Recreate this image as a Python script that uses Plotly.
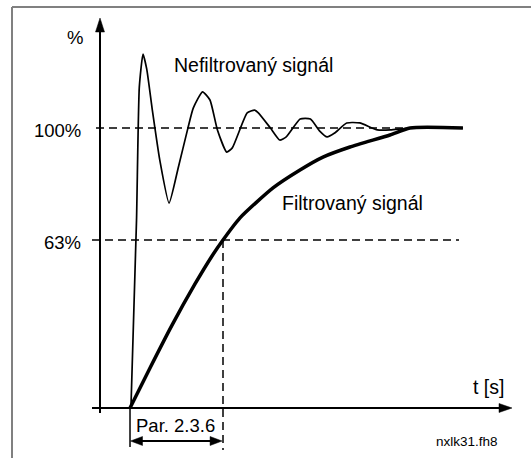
import plotly.graph_objects as go

# ---------------- data ----------------
# time in units of the filter time constant (Par. 2.3.6 = 1.0), level in %
T_UNFILTERED = [0.01, 0.07, 0.10, 0.14, 0.18, 0.24, 0.32, 0.42, 0.52, 0.62, 0.68, 0.78,
                0.86, 0.94, 1.04, 1.10, 1.26, 1.34, 1.38, 1.51, 1.61, 1.68, 1.83, 1.94,
                2.04, 2.12, 2.20, 2.33, 2.47, 2.66, 2.80, 3.01, 3.58]
Y_UNFILTERED = [0.0, 67.1, 114.6, 126.4, 121.0, 106.4, 88.6, 73.2, 86.0, 99.6, 107.1, 112.9,
                110.0, 99.3, 91.4, 92.9, 105.4, 106.4, 105.4, 100.0, 95.7, 96.8, 103.2, 103.2,
                98.9, 96.8, 98.2, 101.8, 101.8, 99.3, 99.3, 100.0, 100.0]

T_FILTERED = [0.0, 0.215, 0.452, 0.699, 0.882, 1.00, 1.183, 1.538, 1.828, 2.075, 2.366, 2.796, 3.011, 3.58]
Y_FILTERED = [0.0, 14.3, 29.6, 44.3, 54.3, 60.0, 67.9, 78.6, 85.0, 89.6, 93.2, 97.5, 100.0, 100.0]

LEVEL_TICKS = [60, 100]
LEVEL_LABELS = ["63%", "100%"]
TAU = 1.0

# ---------------- figure geometry ----------------
W, H = 531, 458
X_RANGE = [-1.398, 4.312]
Y_RANGE = [-17.857, 145.71]
FONT = "Liberation Sans, Arial, sans-serif"


def px(xp):
    return xp / W


def py(yp):
    return 1 - yp / H


def t_of(xp):
    return X_RANGE[0] + xp / W * (X_RANGE[1] - X_RANGE[0])


def y_of(yp):
    return Y_RANGE[1] - yp / H * (Y_RANGE[1] - Y_RANGE[0])


Y_AXIS_T = t_of(100)

fig = go.Figure()
fig.add_trace(go.Scatter(x=T_UNFILTERED, y=Y_UNFILTERED, mode="lines",
                         line=dict(color="black", width=1.7, shape="spline", smoothing=0.5),
                         hoverinfo="skip"))
fig.add_trace(go.Scatter(x=T_FILTERED, y=Y_FILTERED, mode="lines",
                         line=dict(color="black", width=3.5, shape="spline", smoothing=0.6),
                         hoverinfo="skip"))

shapes = []
dash = dict(color="black", width=1.5, dash="8px,5px")
# guide lines
shapes.append(dict(type="line", x0=t_of(96), x1=T_FILTERED[-2], y0=LEVEL_TICKS[1], y1=LEVEL_TICKS[1],
                   line=dash, layer="below"))
shapes.append(dict(type="line", x0=t_of(92), x1=t_of(459), y0=LEVEL_TICKS[0], y1=LEVEL_TICKS[0],
                   line=dash, layer="below"))
shapes.append(dict(type="line", x0=TAU, x1=TAU, y0=LEVEL_TICKS[0], y1=y_of(450), line=dash))
# axes
shapes.append(dict(type="line", x0=Y_AXIS_T, x1=Y_AXIS_T, y0=y_of(413), y1=y_of(28),
                   line=dict(color="black", width=2)))
shapes.append(dict(type="line", x0=t_of(92), x1=t_of(502), y0=0, y1=0,
                   line=dict(color="black", width=2)))
# bracket
shapes.append(dict(type="line", x0=0, x1=0, y0=0, y1=y_of(447), line=dict(color="black", width=1.5)))
ARROW_Y = y_of(441)
shapes.append(dict(type="line", x0=t_of(136), x1=t_of(217), y0=ARROW_Y, y1=ARROW_Y,
                   line=dict(color="black", width=2)))


def head(xa, ya, path):
    return dict(type="path", xref="x", yref="y", xsizemode="pixel", ysizemode="pixel",
                xanchor=xa, yanchor=ya, path=path, fillcolor="black",
                line=dict(color="black", width=0.5))


shapes.append(head(Y_AXIS_T, y_of(18), "M0,0 L-4.5,-14 L4.5,-14 Z"))
shapes.append(head(t_of(512), 0, "M0,0 L-13,4.5 L-13,-4.5 Z"))
shapes.append(head(t_of(130.5), ARROW_Y, "M0,0 L12,4.5 L12,-4.5 Z"))
shapes.append(head(TAU - 0.01, ARROW_Y, "M0,0 L-12,4.5 L-12,-4.5 Z"))
# frame
shapes.append(dict(type="line", xref="paper", yref="paper", x0=px(12), x1=px(531), y0=py(7), y1=py(7),
                   line=dict(color="#808080", width=2)))
shapes.append(dict(type="line", xref="paper", yref="paper", x0=px(12), x1=px(12), y0=py(7), y1=py(458),
                   line=dict(color="#808080", width=2)))

anns = []


def text(s, xp, yp, size, xanchor="center"):
    anns.append(dict(text=s, xref="paper", yref="paper", x=px(xp), y=py(yp), showarrow=False,
                     xanchor=xanchor, yanchor="middle", font=dict(family=FONT, size=size, color="black")))


# level labels (y tick labels) at the left of the vertical axis
for val, lab in zip(LEVEL_TICKS, LEVEL_LABELS):
    anns.append(dict(text=lab, xref="paper", yref="y", x=px(83), y=val - 0.8, showarrow=False,
                     xanchor="right", yanchor="middle",
                     font=dict(family=FONT, size=18.5, color="black")))

text("%", 75, 37, 18.5)
text("Nefiltrovaný signál", 253.5, 65, 19.5)
text("Filtrovaný signál", 352, 203, 19.5)
text("t [s]", 488, 387, 19.5)
text("Par. 2.3.6", 175, 425, 18.5)
text("nxlk31.fh8", 467, 441, 13.5)

fig.update_layout(
    width=W, height=H, margin=dict(l=0, r=0, t=0, b=0),
    paper_bgcolor="white", plot_bgcolor="white", showlegend=False,
    shapes=shapes, annotations=anns,
    xaxis=dict(range=X_RANGE, visible=False, fixedrange=True),
    yaxis=dict(range=Y_RANGE, visible=False, fixedrange=True),
)

fig.write_html("out.html", config={"displayModeBar": False},
               post_script="document.body.style.margin='0';")
